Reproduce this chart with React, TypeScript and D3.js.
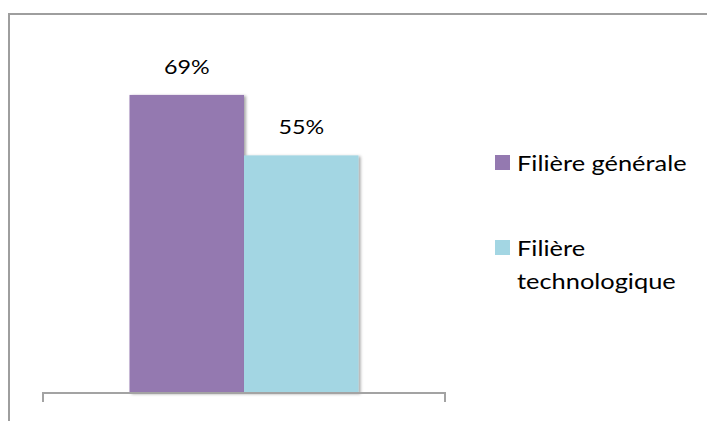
import React from "react";
import * as d3 from "d3";

const categories = ["Bac"];
const seriesNames = ["Filière générale", "Filière technologique"];
const seriesValues = [0.69, 0.55];
const legendLines = [["Filière générale"], ["Filière", "technologique"]];

const colors = ["#9479B0", "#A3D6E3"];
const FONT = "Lato, 'Open Sans', sans-serif";

export default function App() {
  const W = 707;
  const H = 421;
  const axisY = 393;
  const x0 = d3.scaleBand<string>().domain(categories).range([43, 445]).paddingInner(0).paddingOuter(0.3777);
  const x1 = d3.scaleBand<string>().domain(seriesNames).range([0, x0.bandwidth()]).padding(0);
  const y = d3.scaleLinear().domain([0, 0.8]).range([axisY, 47.4]);
  const fmt = d3.format(".0%");

  return (
    <div style={{ position: "fixed", left: 0, top: 0 }}>
      <svg width={W} height={H} style={{ display: "block", background: "#fff" }}>
        <defs>
          <filter id="sh" x="-20%" y="-20%" width="140%" height="140%">
            <feDropShadow dx="2" dy="1" stdDeviation="1.8" floodColor="#000" floodOpacity="0.35" />
          </filter>
        </defs>
        <rect x={0} y={0} width={W} height={H} fill="#fff" />
        {/* frame */}
        <line x1={9} y1={14} x2={W} y2={14} stroke="#9E9E9E" strokeWidth={2} />
        <line x1={9} y1={13} x2={9} y2={H} stroke="#9E9E9E" strokeWidth={2} />
        {categories.map((c) => (
          <g key={c} transform={`translate(${x0(c)},0)`}>
            {seriesNames.map((s, i) => (
              <rect
                key={s}
                x={x1(s)}
                y={y(seriesValues[i])}
                width={x1.bandwidth()}
                height={axisY - y(seriesValues[i])}
                fill={colors[i]}
                filter="url(#sh)"
              />
            ))}
            {seriesNames.map((s, i) => (
              <text
                key={s + "l"}
                transform={`translate(${(x1(s) as number) + x1.bandwidth() / 2},${y(seriesValues[i]) - 21}) scale(1.26,1)`}
                textAnchor="middle"
                fontFamily={FONT}
                fontSize={18.5}
                fill="#000"
              >
                {fmt(seriesValues[i])}
              </text>
            ))}
          </g>
        ))}
        {/* axis */}
        <path d={`M43,402V393H445V402`} fill="none" stroke="#A3A3A3" strokeWidth={2} />
        {/* legend */}
        {seriesNames.map((s, i) => {
          const top = i === 0 ? 155 : 240;
          return (
            <g key={s}>
              <rect x={495} y={top} width={15} height={15} fill={colors[i]} />
              {legendLines[i].map((ln, j) => (
                <text
                  key={j}
                  transform={`translate(517,${top + 16 + j * 33}) scale(1.21,1)`}
                  fontFamily={FONT}
                  fontSize={21}
                  fill="#000"
                >
                  {ln}
                </text>
              ))}
            </g>
          );
        })}
      </svg>
    </div>
  );
}
